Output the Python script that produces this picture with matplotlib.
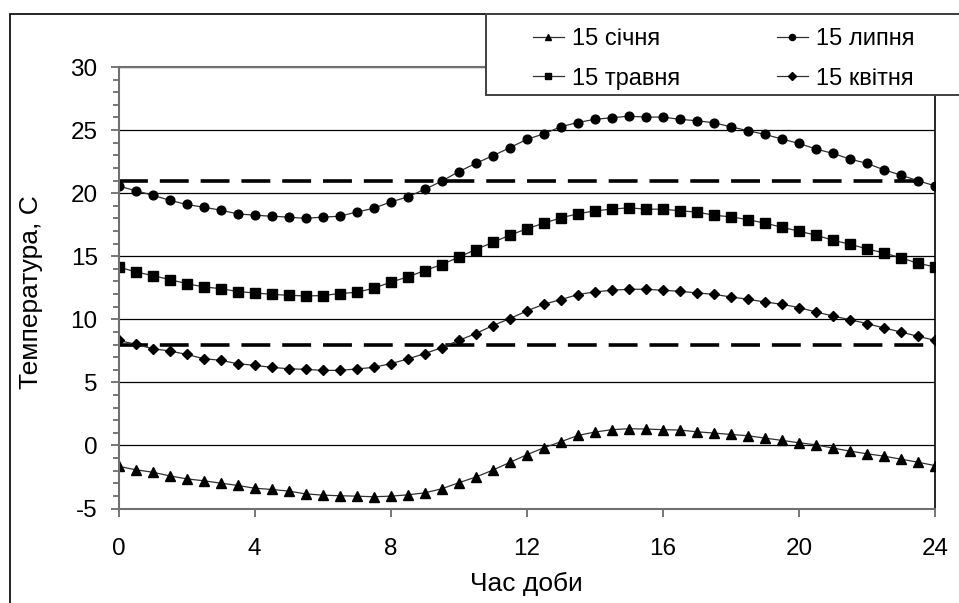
import matplotlib
matplotlib.use("Agg")
import matplotlib.pyplot as plt
from matplotlib.patches import Rectangle
from matplotlib.ticker import MultipleLocator

plt.rcParams['font.family'] = ['Liberation Sans', 'DejaVu Sans']
plt.rcParams['axes.unicode_minus'] = False

# half-hour grid of the day
hours = [i * 0.5 for i in range(49)]

jan = [-1.65, -1.93, -2.12, -2.41, -2.65, -2.8, -2.99, -3.17, -3.39, -3.49,
       -3.62, -3.84, -3.94, -3.99, -4.02, -4.07, -4.02, -3.92, -3.76, -3.44,
       -2.96, -2.51, -1.96, -1.35, -0.74, -0.19, 0.29, 0.79, 1.06, 1.25,
       1.32, 1.3, 1.25, 1.22, 1.08, 0.98, 0.87, 0.77, 0.58, 0.4,
       0.21, 0.05, -0.21, -0.45, -0.66, -0.85, -1.09, -1.33, -1.6]

jul = [20.56, 20.2, 19.84, 19.44, 19.1, 18.89, 18.65, 18.36, 18.25, 18.17,
       18.1, 18.0, 18.1, 18.17, 18.5, 18.8, 19.3, 19.7, 20.3, 20.95,
       21.7, 22.36, 22.96, 23.6, 24.26, 24.7, 25.26, 25.6, 25.85, 25.98,
       26.1, 26.03, 26.03, 25.85, 25.74, 25.58, 25.26, 24.95, 24.66, 24.29,
       23.94, 23.5, 23.15, 22.7, 22.36, 21.85, 21.43, 20.98, 20.58]

may = [14.15, 13.76, 13.47, 13.15, 12.83, 12.57, 12.43, 12.2, 12.09, 11.98,
       11.9, 11.85, 11.88, 12.04, 12.14, 12.46, 12.94, 13.36, 13.86, 14.34,
       14.92, 15.53, 16.09, 16.67, 17.17, 17.62, 18.04, 18.36, 18.6, 18.73,
       18.84, 18.73, 18.73, 18.6, 18.5, 18.25, 18.12, 17.9, 17.62, 17.3,
       16.98, 16.67, 16.27, 15.95, 15.58, 15.26, 14.87, 14.44, 14.15]

apr = [8.33, 8.02, 7.67, 7.49, 7.22, 6.88, 6.75, 6.48, 6.35, 6.19,
       6.08, 6.03, 5.95, 5.95, 6.06, 6.19, 6.48, 6.85, 7.28, 7.75,
       8.33, 8.86, 9.5, 10.05, 10.66, 11.19, 11.56, 11.96, 12.17, 12.3,
       12.38, 12.38, 12.3, 12.22, 12.09, 11.98, 11.77, 11.59, 11.37, 11.19,
       10.93, 10.58, 10.26, 9.97, 9.66, 9.31, 8.99, 8.65, 8.33]

# comfort limits (dashed)
limits = [21, 8]
limit_x = [0, 24]

labels = ["15 січня", "15 травня", "15 липня", "15 квітня"]
xticks = [0, 4, 8, 12, 16, 20, 24]

fig = plt.figure(figsize=(9.59, 6.03), dpi=100)
ax = fig.add_axes([118.5 / 959, 1 - 508.5 / 603, (935 - 118.5) / 959, (508.5 - 67) / 603])

line_kw = dict(color='#303030', lw=0.9, markerfacecolor='black', markeredgecolor='black')
h_jan, = ax.plot(hours, jan, marker='^', ms=7, label=labels[0], **line_kw)
h_may, = ax.plot(hours, may, marker='s', ms=6.5, label=labels[1], **line_kw)
h_jul, = ax.plot(hours, jul, marker='o', ms=6.3, label=labels[2], **line_kw)
h_apr, = ax.plot(hours, apr, marker='D', ms=5.5, label=labels[3], **line_kw)

for lim in limits:
    ax.plot(limit_x, [lim, lim], color='black', lw=2.6, dashes=(8, 3.3), zorder=1.5)

ax.set_xlim(0, 24)
ax.set_ylim(-5, 30)
ax.set_xticks(xticks)
ax.set_yticks(range(-5, 31, 5))
ax.yaxis.set_minor_locator(MultipleLocator(1))
ax.yaxis.grid(True, color='black', lw=0.9)
ax.set_axisbelow(True)

ax.tick_params(axis='both', which='major', labelsize=17.5, length=6, width=1.2, color='#606060')
ax.tick_params(axis='y', which='minor', length=4.5, width=1.2, color='#606060')
ax.tick_params(axis='y', which='major', pad=9)
ax.tick_params(axis='x', which='major', pad=15)

for side in ['left', 'bottom', 'top']:
    ax.spines[side].set_color('#707070')
    ax.spines[side].set_linewidth(1.5)
ax.spines['right'].set_color('black')
ax.spines['right'].set_linewidth(1.2)

ax.set_xlabel("Час доби", fontsize=19, labelpad=9)
ax.set_ylabel("Температура, С", fontsize=19)
ax.yaxis.set_label_coords(-0.093, 0.49)

# outer chart frame
fig.add_artist(Rectangle((9.5 / 959, -0.1), 1.2, 1.1 - 14 / 603, transform=fig.transFigure,
                         fill=False, edgecolor='black', lw=1.2, zorder=3))

# legend box sticking out at the top right
fig.add_artist(Rectangle((486 / 959, 1 - 95 / 603), 0.6, (95 - 14) / 603, transform=fig.transFigure,
                         facecolor='white', edgecolor='#404040', lw=1.4, zorder=4))

leg = fig.legend(handles=[h_jan, h_may, h_jul, h_apr], loc='upper left',
                 bbox_to_anchor=(533 / 959, 1 - 28 / 603), ncol=2, frameon=False,
                 fontsize=17, handlelength=1.3, handletextpad=0.35, columnspacing=4.1,
                 labelspacing=0.75, markerscale=0.7, borderaxespad=0, borderpad=0)
leg.set_zorder(5)

fig.savefig("out.png", dpi=100)
